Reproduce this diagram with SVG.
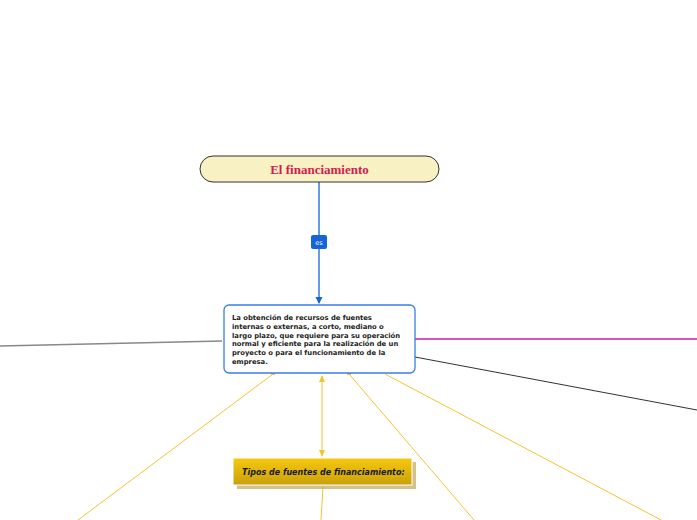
<svg xmlns="http://www.w3.org/2000/svg" width="697" height="520" viewBox="0 0 697 520">
<style>
.y{stroke:#f4c430;stroke-width:1;fill:none}
.mt{font-family:"DejaVu Sans",sans-serif;font-weight:bold;font-size:6.8px;fill:#222}
</style>
<defs>
<marker id="ab" markerWidth="8" markerHeight="8" refX="6" refY="4" orient="auto" markerUnits="userSpaceOnUse"><path d="M0,0.5 L7,4 L0,7.5 z" fill="#1565d8"/></marker>
<marker id="ay" markerWidth="8" markerHeight="8" refX="6" refY="4" orient="auto-start-reverse" markerUnits="userSpaceOnUse"><path d="M0,1 L7,4 L0,7 z" fill="#f4c430"/></marker>
<linearGradient id="gold" x1="0" y1="0" x2="0" y2="1"><stop offset="0" stop-color="#f6c90e"/><stop offset="1" stop-color="#c9a00a"/></linearGradient>
</defs>
<g id="connectors">
<line x1="319" y1="182" x2="319" y2="303" stroke="#1565d8" stroke-width="1.3" marker-end="url(#ab)"/>
<line x1="222" y1="341" x2="0" y2="346" stroke="#888" stroke-width="1.3"/>
<line x1="415" y1="339" x2="697" y2="339" stroke="#d01aa0" stroke-width="1.3"/>
<line x1="415" y1="357" x2="697" y2="410" stroke="#333" stroke-width="1"/>
<line class="y" x1="273" y1="374" x2="78" y2="520"/>
<line class="y" x1="349" y1="374" x2="474" y2="520"/>
<line class="y" x1="385" y1="374" x2="661" y2="520"/>
<line class="y" x1="322" y1="376" x2="322" y2="456" marker-start="url(#ay)" marker-end="url(#ay)"/>
<line class="y" x1="323" y1="487" x2="321" y2="520"/>
<rect x="271" y="372" width="4" height="3" fill="#e8c060"/>
<rect x="347" y="372" width="4" height="3" fill="#e8c060"/>
<g id="label-es"><rect x="311" y="235" width="16" height="14" rx="2" fill="#1565d8"/><text x="319" y="245" text-anchor="middle" font-family="DejaVu Sans,sans-serif" font-size="6.5" fill="#fff">es</text></g>
</g>
<g id="node-title">
<rect x="200" y="156" width="239" height="26" rx="13" fill="#f7f1c4" stroke="#333" stroke-width="1"/>
<text x="319.5" y="174" text-anchor="middle" font-family="Liberation Serif,serif" font-weight="bold" font-size="13" fill="#d81b4f">El financiamiento</text>
</g>
<g id="node-main">
<rect x="224" y="305" width="191" height="68" rx="5" fill="#fff" stroke="#3a7ee8" stroke-width="1.3"/>
<text class="mt" x="232" y="320">La obtención de recursos de fuentes</text>
<text class="mt" x="232" y="328.8">internas o externas, a corto, mediano o</text>
<text class="mt" x="232" y="337.6">largo plazo, que requiere para su operación</text>
<text class="mt" x="232" y="346.4">normal y eficiente para la realización de un</text>
<text class="mt" x="232" y="355.2">proyecto o para el funcionamiento de la</text>
<text class="mt" x="232" y="364">empresa.</text>
</g>
<g id="node-tipos">
<rect x="237" y="462" width="179" height="27" fill="#b89a40" opacity="0.6"/>
<rect x="233" y="458" width="179" height="27" fill="url(#gold)" stroke="#fff" stroke-width="1"/>
<text x="242" y="475" font-family="DejaVu Sans,sans-serif" font-style="italic" font-weight="bold" font-size="8" fill="#1a1a1a">Tipos de fuentes de financiamiento:</text>
</g>
</svg>
